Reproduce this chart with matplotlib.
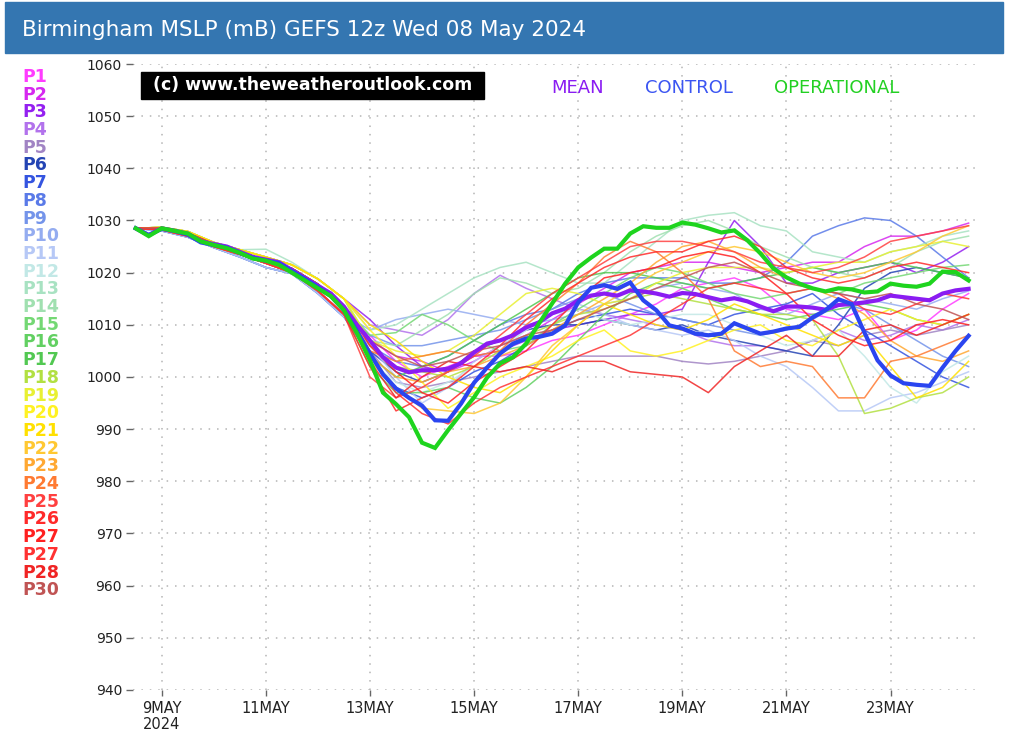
import numpy as np
import matplotlib
matplotlib.use('Agg')
import matplotlib.pyplot as plt
from matplotlib.patches import Rectangle

# time axis: 8 May 12z to 24 May 12z (day-of-month)
t6 = np.arange(8.5, 24.51, 0.25)    # 6-hourly for mean / control / operational
t12 = np.arange(8.5, 24.51, 0.5)    # 12-hourly for the perturbed members

mean = [1028.5, 1027.2, 1028.5, 1028.0, 1027.5, 1026.0, 1025.5, 1025.0, 1024.0, 1023.0,
        1022.5, 1022.0, 1020.5, 1019.0, 1017.5, 1016.0, 1013.5, 1010.0, 1007.0, 1003.8,
        1001.8, 1000.9, 1001.3, 1001.3, 1001.6, 1002.6, 1004.7, 1006.4, 1007.0, 1008.0,
        1009.5, 1010.5, 1012.2, 1013.1, 1014.7, 1015.6, 1016.0, 1015.6, 1016.6, 1016.4,
        1016.0, 1015.4, 1016.1, 1015.9, 1015.3, 1014.7, 1015.1, 1014.5, 1013.5, 1012.6,
        1013.5, 1013.5, 1013.3, 1012.9, 1013.8, 1014.0, 1014.3, 1014.7, 1015.6, 1015.3,
        1015.0, 1014.7, 1016.0, 1016.6, 1016.9]

control = [1028.5, 1027.2, 1028.4, 1028.0, 1027.3, 1025.8, 1025.3, 1024.8, 1023.8, 1022.8,
           1022.3, 1021.8, 1020.3, 1018.8, 1017.2, 1015.5, 1012.8, 1008.8, 1004.5, 1000.5,
           997.8, 996.0, 994.5, 991.7, 991.6, 994.9, 998.9, 1001.8, 1004.5, 1006.4,
           1007.4, 1007.7, 1008.3, 1009.9, 1014.3, 1017.1, 1017.6, 1016.9, 1018.1, 1014.7,
           1012.8, 1009.9, 1009.3, 1008.3, 1008.0, 1008.3, 1010.3, 1009.3, 1008.3, 1008.7,
           1009.3, 1009.6, 1011.4, 1012.8, 1014.9, 1014.0, 1008.5, 1003.2, 1000.3, 998.8,
           998.5, 998.3, 1001.8, 1005.0, 1007.9]

operational = [1028.5, 1027.0, 1028.5, 1028.0, 1027.5, 1026.0, 1025.3, 1024.7, 1023.8, 1022.7,
               1022.3, 1021.5, 1020.0, 1018.5, 1017.0, 1015.5, 1012.8, 1008.4, 1003.2, 997.0,
               994.8, 992.3, 987.4, 986.4, 989.8, 993.0, 996.1, 999.9, 1002.6, 1003.8,
               1006.4, 1010.3, 1014.1, 1017.9, 1021.0, 1022.9, 1024.6, 1024.6, 1027.5, 1028.9,
               1028.6, 1028.6, 1029.6, 1029.2, 1028.5, 1027.7, 1028.1, 1026.2, 1023.7, 1020.8,
               1019.1, 1017.9, 1017.0, 1016.4, 1017.0, 1016.8, 1016.2, 1016.4, 1017.9, 1017.5,
               1017.3, 1017.9, 1020.2, 1020.1, 1018.5]

member_labels = ['P1', 'P2', 'P3', 'P4', 'P5', 'P6', 'P7', 'P8', 'P9', 'P10',
                 'P11', 'P12', 'P13', 'P14', 'P15', 'P16', 'P17', 'P18', 'P19', 'P20',
                 'P21', 'P22', 'P23', 'P24', 'P25', 'P26', 'P27', 'P27', 'P28', 'P30']

member_colors = ['#ff3cff', '#d628f0', '#9420f0', '#b272ec', '#a184c4', '#2444b4', '#3454e0',
                 '#5a7ae8', '#7494ea', '#94acf0', '#b6c8f6', '#c2e8e6', '#a8e2c2', '#a0e0b0',
                 '#74d874', '#62d062', '#52c852', '#b2e042', '#e8f032', '#fff222', '#ffe000',
                 '#ffc832', '#ffa832', '#ff7a32', '#ff4040', '#ff2a2a', '#ff2020', '#ff3232',
                 '#f02424', '#c05454']

members = [
    [1028.5, 1028.2, 1027.0, 1025.0, 1023.5, 1021.8, 1020.0, 1016.5, 1012.0, 1008, 1003, 1000, 1002, 1004, 1004, 1005, 1007,
     1008, 1010, 1012, 1014, 1017, 1018, 1019, 1017, 1013, 1012, 1011, 1013, 1007, 1009, 1013, 1016],
    [1028.5, 1028.5, 1027.6, 1025.5, 1024.0, 1022.4, 1020.8, 1017.8, 1013.5, 1007, 1004, 1003, 1001, 1003, 1006, 1008, 1011,
     1014, 1017, 1020, 1021, 1022, 1022, 1021, 1020, 1021, 1022, 1022, 1025, 1027, 1027, 1028, 1029.5],
    [1028.5, 1028.7, 1027.9, 1025.8, 1024.4, 1023.0, 1021.5, 1018.8, 1015.0, 1011, 1006, 1002, 1001, 1004, 1005, 1007, 1009,
     1010, 1011, 1012, 1012, 1013, 1022, 1030, 1025, 1018, 1018, 1020, 1021, 1022, 1020, 1022, 1025],
    [1028.5, 1028.7, 1027.9, 1025.8, 1024.4, 1023.0, 1021.5, 1018.8, 1015.0, 1010, 1009, 1008, 1011, 1016, 1019.5, 1017, 1015,
     1013, 1012, 1011, 1010, 1009, 1007, 1006, 1006, 1005, 1007, 1009, 1007, 1008, 1010, 1009, 1011],
    [1028.5, 1028.5, 1027.6, 1025.5, 1024.0, 1022.4, 1020.8, 1017.8, 1013.5, 1005, 999, 998, 999, 1000, 1001, 1002, 1003,
     1004, 1004, 1004, 1004, 1003, 1002.5, 1003, 1004, 1005, 1007, 1006, 1008, 1009, 1008, 1009, 1010],
    [1028.5, 1028.2, 1027.0, 1025.0, 1023.5, 1021.8, 1020.0, 1016.5, 1012.0, 1005, 1001, 999, 1001, 1005, 1007, 1009, 1010,
     1010, 1011, 1010, 1009, 1010, 1008, 1007, 1006, 1005, 1004, 1010, 1017, 1020, 1021, 1020, 1019],
    [1028.5, 1028.0, 1026.8, 1024.8, 1023.0, 1021.0, 1019.8, 1016.0, 1011.5, 1004, 998, 996, 998, 1001, 1003, 1006, 1009,
     1011, 1012, 1013, 1012, 1011, 1010, 1012, 1013, 1014, 1016, 1012, 1009, 1006, 1003, 1000, 998],
    [1028.5, 1028.0, 1026.8, 1024.8, 1023.0, 1021.0, 1019.8, 1016.0, 1011.5, 1006, 1003, 1002, 1004, 1007, 1010, 1012, 1013,
     1016, 1018, 1019, 1019, 1019, 1018, 1018, 1019, 1022, 1027, 1029, 1030.5, 1030, 1027, 1023, 1019],
    [1028.5, 1028.0, 1026.8, 1024.8, 1023.0, 1021.0, 1019.8, 1016.0, 1011.5, 1008, 1006, 1006, 1007, 1008, 1009, 1011, 1013,
     1015, 1016, 1014, 1012, 1011, 1010, 1009, 1008, 1009, 1011, 1014, 1013, 1010, 1007, 1004, 1002],
    [1028.5, 1028.2, 1027.0, 1025.0, 1023.5, 1021.8, 1020.0, 1016.5, 1012.0, 1009, 1011, 1012, 1013, 1012, 1011, 1010, 1011,
     1012, 1014, 1015, 1017, 1018, 1017, 1016, 1013, 1012, 1014, 1016, 1015, 1014, 1013, 1015, 1016.5],
    [1028.5, 1028.0, 1026.8, 1024.8, 1023.0, 1021.0, 1019.8, 1016.0, 1011.5, 1006, 1000, 995, 998, 1003, 1006, 1009, 1012,
     1014, 1012, 1010, 1009, 1008, 1009, 1007, 1004, 1002, 998, 993.5, 993.5, 996, 997, 999, 1001],
    [1028.5, 1028.5, 1027.6, 1025.5, 1024.0, 1022.4, 1020.8, 1017.8, 1013.5, 1003, 999, 997, 999, 1002, 1005, 1009, 1012,
     1013, 1011, 1010, 1011, 1012, 1012, 1010, 1008, 1006, 1007, 1009, 1004, 998, 995, 1001, 1004],
    [1028.5, 1028.7, 1027.9, 1025.8, 1024.4, 1024.5, 1022.0, 1018.8, 1015.0, 1009, 1010, 1013, 1016, 1019, 1021, 1022, 1020,
     1018, 1018, 1022, 1026, 1030, 1031, 1031.5, 1029, 1028, 1024, 1023, 1022, 1024, 1025, 1027, 1028],
    [1028.5, 1028.7, 1027.9, 1025.8, 1024.4, 1023.0, 1021.5, 1018.8, 1015.0, 1007, 1006, 1009, 1012, 1016, 1019, 1018, 1016,
     1017, 1020, 1024, 1027, 1029, 1030, 1028, 1025, 1023, 1021, 1020, 1019, 1021, 1024, 1026, 1027],
    [1028.5, 1028.5, 1027.6, 1025.5, 1024.0, 1022.4, 1020.8, 1017.8, 1013.5, 1008, 1008.5, 1012, 1010, 1007, 1005, 1006, 1010,
     1013, 1016, 1019, 1021, 1020, 1018, 1016, 1015, 1016, 1017, 1016, 1018, 1019, 1020, 1021, 1021.5],
    [1028.5, 1028.2, 1027.0, 1025.0, 1023.5, 1021.8, 1020.0, 1016.5, 1012.0, 1002, 997, 997, 998, 996, 995, 998, 1002,
     1007, 1012, 1016, 1018, 1017, 1015, 1013, 1012, 1011, 1012, 1013, 1014, 1013, 1011, 1010, 1012],
    [1028.5, 1028.5, 1027.6, 1025.5, 1024.0, 1022.4, 1020.8, 1017.8, 1013.5, 1004, 1000, 1002, 1004, 1007, 1010, 1013, 1016,
     1019, 1020, 1020, 1019, 1018, 1017, 1018, 1019, 1020, 1021, 1020, 1021, 1022, 1021, 1020, 1019],
    [1028.5, 1028.7, 1027.9, 1025.8, 1024.4, 1023.0, 1021.5, 1018.8, 1015.0, 1006, 1002, 1001, 1000, 1002, 1005, 1008, 1010,
     1012, 1013, 1015, 1016, 1015, 1014, 1013, 1012, 1012, 1011, 1004, 993, 994, 996, 997, 1000],
    [1028.5, 1028.7, 1027.9, 1025.8, 1024.4, 1023.0, 1021.5, 1018.8, 1015.0, 1007, 1005, 1004, 1005, 1008, 1012, 1016, 1017,
     1016, 1014, 1015, 1018, 1020, 1021, 1021, 1021, 1020, 1021, 1022, 1022, 1024, 1025, 1026, 1025],
    [1028.5, 1028.7, 1027.9, 1025.8, 1024.4, 1023.0, 1021.5, 1018.8, 1015.0, 1009, 1004, 999, 994, 997, 1000, 1002, 1004,
     1007, 1009, 1005, 1004, 1005, 1007, 1009, 1010, 1007, 1006, 1009, 1011, 1013, 1011, 1010, 1012],
    [1028.5, 1028.7, 1027.9, 1025.8, 1024.4, 1023.0, 1021.5, 1018.8, 1015.0, 1010, 1007, 1003, 1000, 998, 997, 1000, 1005,
     1010, 1014, 1012, 1010, 1009, 1011, 1014, 1012, 1010, 1008, 1006, 1008, 1002, 996, 998, 1003],
    [1028.5, 1028.5, 1027.6, 1025.5, 1024.0, 1022.4, 1020.8, 1017.8, 1013.5, 1003, 998, 994, 993.5, 993, 995, 1000, 1006,
     1010, 1014, 1017, 1020, 1022, 1024, 1025, 1024, 1022, 1020, 1019, 1020, 1022, 1024, 1027, 1029],
    [1028.5, 1028.2, 1027.0, 1025.0, 1023.5, 1021.8, 1020.0, 1016.5, 1012.0, 1004, 1000, 999, 1001, 1002, 1004, 1006, 1009,
     1012, 1015, 1018, 1022, 1025, 1026, 1024, 1021, 1019, 1017, 1015, 1012, 1007, 1004, 1003, 1005],
    [1028.5, 1028.5, 1027.6, 1025.5, 1024.0, 1022.4, 1020.8, 1017.8, 1013.5, 1005, 1003, 1004, 1005, 1004, 1005, 1010, 1014,
     1018, 1023, 1026, 1024, 1020, 1015, 1005, 1002, 1003, 1002, 996, 996, 1003, 1004, 1006, 1008],
    [1028.5, 1028.2, 1027.0, 1025.0, 1023.5, 1021.8, 1020.0, 1016.5, 1012.0, 1000, 996, 998, 1001, 1004, 1008, 1012, 1016,
     1019, 1022, 1025, 1026, 1026, 1025, 1024, 1022, 1021, 1020, 1021, 1023, 1026, 1027, 1028, 1029],
    [1028.5, 1028.2, 1027.0, 1025.0, 1023.5, 1021.8, 1020.0, 1016.5, 1012.0, 1002, 993.5, 996, 998, 1002, 1006, 1011, 1015,
     1018, 1021, 1023, 1024, 1024, 1026, 1027, 1025, 1021, 1019, 1018, 1019, 1021, 1022, 1021, 1020],
    [1028.5, 1028.5, 1027.6, 1025.5, 1024.0, 1022.4, 1020.8, 1017.8, 1013.5, 1006, 1001, 997, 995, 999, 1002, 1005, 1010,
     1015, 1019, 1020, 1021, 1023, 1024, 1023, 1020, 1016, 1011, 1008, 1006, 1007, 1010, 1011, 1010],
    [1028.5, 1028.2, 1027.0, 1025.0, 1023.5, 1021.8, 1020.0, 1016.5, 1012.0, 1004, 997, 993, 991, 995, 998, 1000, 1002,
     1004, 1006, 1008, 1011, 1014, 1017, 1018, 1017, 1016, 1017, 1016, 1013, 1012, 1014, 1016, 1015],
    [1028.5, 1028.5, 1027.6, 1025.5, 1024.0, 1022.4, 1020.8, 1017.8, 1013.5, 1003, 996, 1000, 1003, 1002, 1001, 1002, 1001,
     1003, 1003, 1001, 1000.5, 1000, 997, 1002, 1005, 1008, 1004, 1004, 1009, 1010, 1008, 1010, 1012],
    [1028.5, 1028.5, 1027.6, 1025.5, 1024.0, 1022.4, 1020.8, 1017.8, 1013.5, 1007, 1004, 1002, 1003, 1005, 1006, 1008, 1009,
     1011, 1013, 1015, 1017, 1019, 1021, 1022, 1020, 1018, 1017, 1016, 1015, 1016, 1014, 1013, 1011],
]

tick_days = [9, 11, 13, 15, 17, 19, 21, 23]
tick_labels = ['9MAY\n2024', '11MAY', '13MAY', '15MAY', '17MAY', '19MAY', '21MAY', '23MAY']
y_ticks = [940, 950, 960, 970, 980, 990, 1000, 1010, 1020, 1030, 1040, 1050, 1060]

title = 'Birmingham MSLP (mB) GEFS 12z Wed 08 May 2024'
narrow = ['Liberation Sans Narrow', 'DejaVu Sans']

fig = plt.figure(figsize=(10.24, 7.46), dpi=100)
ax = fig.add_axes([0.130, 0.0751, 0.822, 0.8391])

for vals, col in zip(members, member_colors):
    ax.plot(t12, vals, color=col, lw=1.1, alpha=0.85, zorder=2)

ax.plot(t6, mean, color='#8a1cf2', lw=3, zorder=4, solid_joinstyle='miter')
ax.plot(t6, control, color='#2a45f0', lw=3, zorder=5, solid_joinstyle='miter')
ax.plot(t6, operational, color='#1ed41e', lw=3, zorder=6, solid_joinstyle='miter')

ax.set_xlim(8.45, 24.62)
ax.set_ylim(940, 1060)
ax.set_yticks(y_ticks)
ax.set_yticklabels([str(v) for v in y_ticks], family=narrow, fontsize=10, color='#222222')
ax.set_xticks(tick_days)
ax.set_xticklabels(tick_labels, family=narrow, fontsize=10.5, color='#222222', linespacing=1.1)
ax.tick_params(axis='y', length=5, width=1, color='#666666', pad=3)
ax.tick_params(axis='x', length=4, width=1, color='#666666', pad=4)
for s in ax.spines.values():
    s.set_visible(False)
ax.grid(True, color='#b4b4b4', lw=1.1, linestyle=(0, (1, 4.5)), zorder=0)
ax.set_axisbelow(True)

# header bar
fig.patches.append(Rectangle((5 / 1024, 1 - 53 / 746), 998 / 1024, 51 / 746,
                             transform=fig.transFigure, color='#3476b1', zorder=0))
fig.text(22 / 1024, 1 - 30 / 746, title, color='white', fontsize=15.5,
         va='center', ha='left', family='DejaVu Sans')

# watermark
fig.patches.append(Rectangle((141 / 1024, 1 - 99 / 746), 343 / 1024, 27 / 746,
                             transform=fig.transFigure, color='black', zorder=1))
fig.text(313 / 1024, 1 - 85.5 / 746, '(c) www.theweatheroutlook.com', color='white',
         fontsize=12.5, fontweight='bold', ha='center', va='center', family='DejaVu Sans')

# series names
fig.text(578 / 1024, 1 - 88 / 746, 'MEAN', color='#8a1cf2', fontsize=13, ha='center', va='center')
fig.text(689 / 1024, 1 - 88 / 746, 'CONTROL', color='#3b55f2', fontsize=13, ha='center', va='center')
fig.text(837 / 1024, 1 - 88 / 746, 'OPERATIONAL', color='#22d022', fontsize=13, ha='center', va='center')

# member key down the left side
for i, (lab, col) in enumerate(zip(member_labels, member_colors)):
    fig.text(22 / 1024, 1 - (77 + i * 17.7) / 746, lab, color=col, fontsize=12.5,
             fontweight='bold', ha='left', va='center')

fig.savefig('out.png', dpi=100)
